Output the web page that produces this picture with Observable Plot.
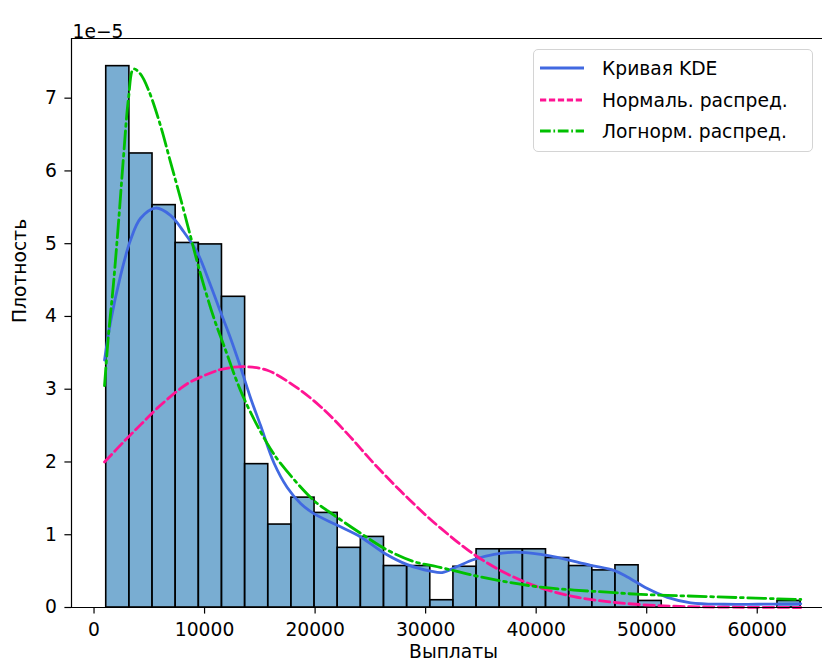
<!DOCTYPE html>
<html><head><meta charset="utf-8">
<script src="https://cdn.jsdelivr.net/npm/d3@7"></script>
<script src="https://cdn.jsdelivr.net/npm/@observablehq/plot@0.6"></script>
<style>
body{margin:0;overflow:hidden;background:#fff;font-family:"DejaVu Sans",sans-serif;}
#wrap{position:relative;width:822px;height:670px;overflow:hidden;}
#wrap > svg{max-width:none !important;}
.legend{position:absolute;left:533px;top:49px;width:280px;height:103px;border:1px solid #d4d4d4;border-radius:5px;background:rgba(255,255,255,0.8);box-sizing:border-box;}
.legend .row{position:absolute;left:0;height:30px;width:100%;}
.legend svg{position:absolute;left:5px;top:0;}
.legend span{position:absolute;left:68px;top:3px;font-size:18.7px;color:#000;white-space:nowrap;line-height:24px;}
</style></head><body><div id="wrap"></div>
<script>
// Histogram (density, in units of 1e-5)
const binStart = 1104;
const binWidth = 2094;
const binHeights = [7.44, 6.24, 5.53, 5.01, 4.99, 4.27, 1.97, 1.14, 1.51, 1.30, 0.82, 0.97, 0.57, 0.57, 0.10,
                    0.56, 0.80, 0.80, 0.80, 0.68, 0.57, 0.51, 0.58, 0.09, 0, 0, 0, 0, 0, 0.09];

// KDE curve
const kdeX = [950, 1490, 2400, 3300, 4210, 5570, 6920, 8130, 9340, 10540, 11450, 12350, 13260, 14160, 15070, 16270, 17480, 18690, 19890, 22010, 24120, 26230, 28340, 30450, 31500, 32800, 34370, 36200, 38100, 40410, 41920, 44930, 47040, 48250, 50060, 51870, 53980, 57000, 60000, 63940];
const kdeY = [3.40, 3.92, 4.56, 5.05, 5.35, 5.49, 5.39, 5.16, 4.88, 4.43, 4.06, 3.70, 3.30, 2.88, 2.50, 1.99, 1.65, 1.43, 1.29, 1.13, 0.97, 0.75, 0.59, 0.50, 0.48, 0.56, 0.66, 0.73, 0.76, 0.73, 0.69, 0.58, 0.51, 0.42, 0.26, 0.14, 0.065, 0.045, 0.045, 0.05];

// Normal distribution curve
const normX = [950, 2700, 4200, 5720, 7830, 8730, 10840, 11750, 13560, 15670, 18080, 20500, 22910, 25320, 27740, 30150, 31360, 34370, 37390, 40410, 43420, 46440, 49460, 53000, 57000, 63940];
const normY = [2.00, 2.28, 2.51, 2.74, 3.01, 3.10, 3.24, 3.28, 3.31, 3.26, 3.05, 2.76, 2.39, 1.98, 1.60, 1.25, 1.09, 0.73, 0.46, 0.27, 0.15, 0.08, 0.04, 0.015, 0.005, 0.00];

// Lognormal distribution curve
const lnX = [950, 1310, 1760, 2220, 2670, 3120, 3570, 4210, 4960, 6020, 6920, 7830, 8730, 9640, 10840, 11750, 13260, 14770, 15970, 16880, 19890, 21700, 24120, 26530, 28940, 31060, 34370, 37390, 40410, 43420, 46440, 49460, 55490, 63940];
const lnY = [3.05, 3.75, 4.45, 5.30, 6.20, 7.00, 7.40, 7.33, 7.10, 6.62, 6.12, 5.62, 5.10, 4.58, 3.98, 3.60, 2.98, 2.50, 2.18, 1.98, 1.47, 1.27, 1.02, 0.79, 0.63, 0.56, 0.44, 0.35, 0.28, 0.24, 0.21, 0.18, 0.15, 0.11];

const xTicks = [0, 10000, 20000, 30000, 40000, 50000, 60000];
const yTicks = [0, 1, 2, 3, 4, 5, 6, 7];
const xDomain = [-2038, 67080];
const yDomain = [0, 7.82];

const labels = {x: "Выплаты", y: "Плотность", offset: "1e\u22125"};
const series = [
  {name: "Кривая KDE", color: "#4169e1", dash: null},
  {name: "Нормаль. распред.", color: "#ff1493", dash: "10.4,4.5"},
  {name: "Логнорм. распред.", color: "#00c000", dash: "17.9,4.5,2.8,4.5"}
];

const bins = binHeights.map((h, i) => ({x1: binStart + i * binWidth, x2: binStart + (i + 1) * binWidth, y: h}));
const kde = kdeX.map((x, i) => ({x, y: kdeY[i]}));
const norm = normX.map((x, i) => ({x, y: normY[i]}));
const logn = lnX.map((x, i) => ({x, y: lnY[i]}));

const plot = Plot.plot({
  width: 836, height: 670,
  marginLeft: 71, marginRight: 1, marginTop: 38, marginBottom: 63,
  style: {fontFamily: "DejaVu Sans, sans-serif", fontSize: "18.7px", color: "#000", background: "white", overflow: "visible", maxWidth: "none"},
  x: {domain: xDomain},
  y: {domain: yDomain},
  marks: [
    Plot.rectY(bins, {x1: "x1", x2: "x2", y: "y", fill: "#1f77b4", fillOpacity: 0.6, stroke: "#000", strokeWidth: 1.6}),
    Plot.line(kde, {x: "x", y: "y", stroke: series[0].color, strokeWidth: 2.8, curve: "catmull-rom"}),
    Plot.line(norm, {x: "x", y: "y", stroke: series[1].color, strokeWidth: 2.8, strokeDasharray: series[1].dash, curve: "catmull-rom"}),
    Plot.line(logn, {x: "x", y: "y", stroke: series[2].color, strokeWidth: 2.8, strokeDasharray: series[2].dash, curve: "catmull-rom"}),
    Plot.ruleY([yDomain[0]], {stroke: "#000", strokeWidth: 1.2}),
    Plot.ruleY([yDomain[1]], {stroke: "#000", strokeWidth: 1.2}),
    Plot.ruleX([xDomain[0]], {stroke: "#000", strokeWidth: 1.2}),
    Plot.ruleX([xDomain[1]], {stroke: "#000", strokeWidth: 1.2}),
    Plot.axisX({ticks: xTicks, tickSize: 6.6, tickPadding: 9, tickFormat: d3.format("d"), label: null, strokeWidth: 1.2}),
    Plot.axisY({ticks: yTicks, tickSize: 6.6, tickPadding: 8, tickFormat: d3.format("d"), label: null, strokeWidth: 1.2}),
    Plot.text([labels.offset], {text: d => d, frameAnchor: "top-left", dy: -14, dx: 1, textAnchor: "start"}),
    Plot.text([labels.x], {text: d => d, frameAnchor: "bottom", dy: 50}),
    Plot.text([labels.y], {text: d => d, frameAnchor: "left", dx: -51, rotate: -90})
  ]
});

const wrap = document.getElementById("wrap");
wrap.appendChild(plot);

const legend = document.createElement("div");
legend.className = "legend";
const rowTops = [4, 36, 67];
series.forEach((s, i) => {
  const row = document.createElement("div");
  row.className = "row";
  row.style.top = rowTops[i] + "px";
  row.innerHTML = `<svg width="46" height="30"><line x1="1" x2="45" y1="14" y2="14" stroke="${s.color}" stroke-width="2.8" ${s.dash ? `stroke-dasharray="${s.dash.split(',').map(v => v * 0.6).join(',')}"` : ""}/></svg><span>${s.name}</span>`;
  legend.appendChild(row);
});
wrap.appendChild(legend);
</script>
</body></html>
